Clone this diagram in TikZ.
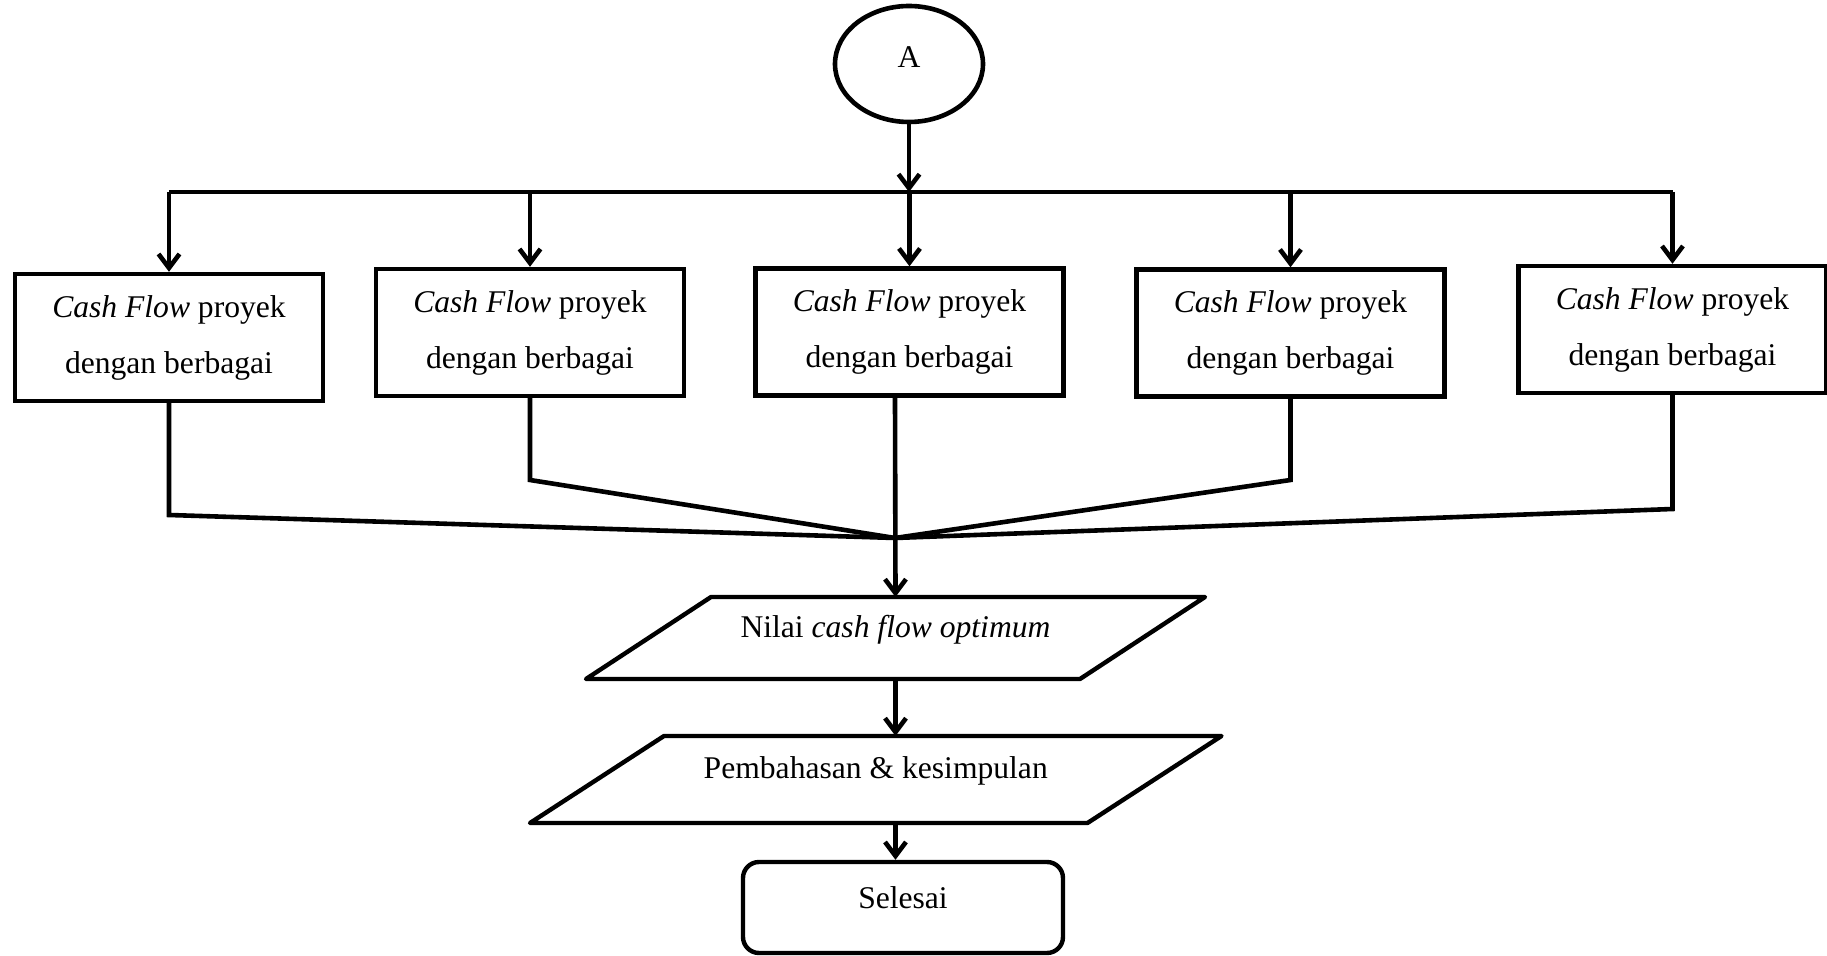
\documentclass[tikz,border=0pt]{standalone}
\usepackage{fontspec}
\setmainfont{Liberation Serif}
\usetikzlibrary{positioning,arrows.meta,shapes.geometric,calc}

\begin{document}
\begin{tikzpicture}[
  x=0.5pt,y=-0.5pt,
  font=\fontsize{15.8}{28}\selectfont,
  cfbox/.style={draw,line width=2.2pt,minimum width=154pt,minimum height=63.5pt,
    align=center,inner sep=2pt},
  iobox/.style={inner sep=2pt,outer sep=0pt,text depth=12pt},
  ioline/.style={line width=2.2pt,line join=round},
  endbox/.style={draw,line width=2.2pt,rounded corners=8pt,
    minimum width=160pt,minimum height=45.5pt,text depth=10pt},
  conn/.style={line width=2.3pt},
  arr/.style={conn,-{Straight Barb[length=7pt,width=10.5pt]}}
]
\useasboundingbox (0,0) rectangle (1827,956);

% Start connector
\node[draw,line width=2.3pt,ellipse,minimum width=74pt,minimum height=58pt,inner sep=0pt,text depth=7pt] (a) at (909,64) {A};

% Cash flow boxes
\node[cfbox] (b1) at (169,337.5) {\textit{Cash Flow} proyek\\ dengan berbagai};
\node[cfbox] (b2) at (530,332.5) {\textit{Cash Flow} proyek\\ dengan berbagai};
\node[cfbox] (b3) at (909.5,332) {\textit{Cash Flow} proyek\\ dengan berbagai};
\node[cfbox] (b4) at (1290.5,333) {\textit{Cash Flow} proyek\\ dengan berbagai};
\node[cfbox] (b5) at (1672.5,329.5) {\textit{Cash Flow} proyek\\ dengan berbagai};

% Output and end
\node[iobox,minimum width=247pt,minimum height=41pt] (p1) at (895.5,638) {Nilai \textit{cash flow optimum}};
\node[iobox,minimum width=278.75pt,minimum height=43.5pt] (p2) at (875.75,779.5) {Pembahasan \& kesimpulan};
\foreach \p/\s in {p1/62.5,p2/67}
  \draw[ioline] ($(\p.north west)+(\s,0)$) -- ($(\p.north east)+(\s,0)$)
    -- ($(\p.south east)-(\s,0)$) -- ($(\p.south west)-(\s,0)$) -- cycle;
\node[endbox] (sel) at (903,907.5) {Selesai};

\coordinate (bus) at (909,192);
\coordinate (m) at (895,538);

% Split
\draw[arr] (a) -- (a |- bus);
\draw[conn] (b1.north |- bus) -- (b5.north |- bus);
\foreach \b in {b1,b2,b3,b4,b5}
  \draw[arr] (\b.north |- bus) -- (\b.north);

% Merge
\foreach \b/\k in {b1/515,b2/480,b4/480,b5/509}
  \draw[conn] (\b.south) -- (\b.south |- 0,\k) -- (m);
\draw[arr] (m |- b3.south) -- (p1.north);
\draw[arr] (p1.south) -- (p1.south |- p2.north);
\draw[arr] (p2.south -| p1.south) -- (p1.south |- sel.north);

\end{tikzpicture}
\end{document}
